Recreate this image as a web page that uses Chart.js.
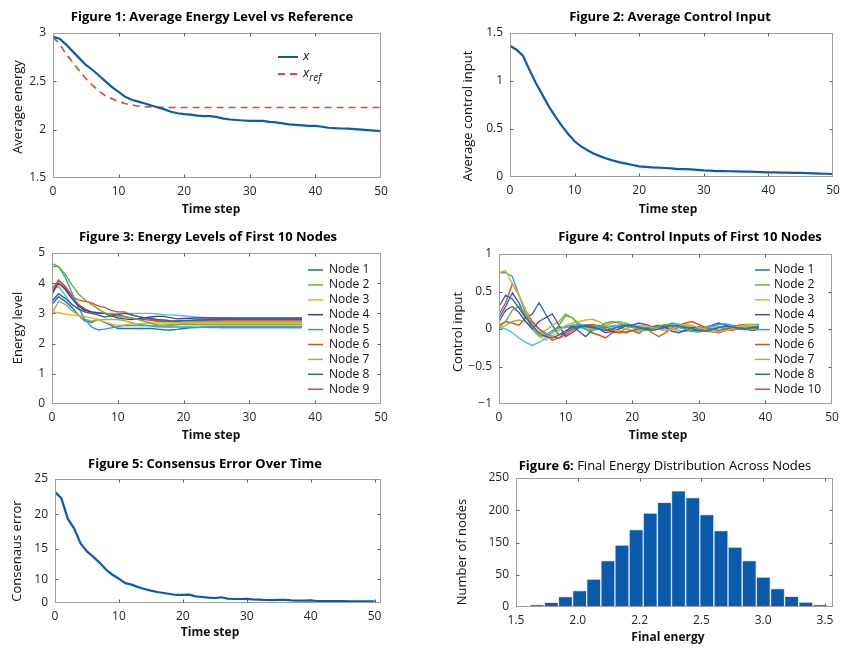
<!DOCTYPE html>
<html><head><meta charset="utf-8">
<script src="https://cdn.jsdelivr.net/npm/chart.js@4"></script>
<style>
html,body{margin:0;padding:0;background:#fff;width:855px;height:653px;overflow:hidden;position:relative;}
canvas{position:absolute;}
</style></head><body>
<canvas id="f1"></canvas><canvas id="f2"></canvas><canvas id="f3"></canvas>
<canvas id="f4"></canvas><canvas id="f5"></canvas><canvas id="f6"></canvas>
<script>
// ---------------- DATA ----------------
const TIME_STEPS = [0,1,2,3,4,5,6,7,8,9,10,11,12,13,14,15,16,17,18,19,20,21,22,23,24,25,26,27,28,29,30,31,32,33,34,35,36,37,38,39,40,41,42,43,44,45,46,47,48,49,50];

const AVG_ENERGY = [2.96,2.94,2.88,2.81,2.74,2.67,2.62,2.56,2.50,2.44,2.39,2.34,2.31,2.29,2.27,2.25,2.23,2.21,2.185,2.17,2.16,2.155,2.145,2.14,2.14,2.13,2.115,2.105,2.10,2.095,2.09,2.09,2.09,2.08,2.075,2.065,2.055,2.05,2.045,2.04,2.04,2.03,2.02,2.015,2.012,2.01,2.005,2.0,1.995,1.99,1.985];
const REF_ENERGY = [2.955,2.89,2.78,2.70,2.61,2.53,2.46,2.40,2.35,2.32,2.29,2.27,2.255,2.245,2.238,2.234,2.232,2.231,2.23,2.23,2.23,2.23,2.23,2.23,2.23,2.23,2.23,2.23,2.23,2.23,2.23,2.23,2.23,2.23,2.23,2.23,2.23,2.23,2.23,2.23,2.23,2.23,2.23,2.23,2.23,2.23,2.23,2.23,2.23,2.23,2.23];

const AVG_CONTROL = [1.368,1.326,1.264,1.118,0.979,0.858,0.736,0.632,0.535,0.448,0.372,0.319,0.278,0.243,0.215,0.191,0.170,0.153,0.139,0.125,0.111,0.105,0.100,0.097,0.094,0.089,0.083,0.081,0.080,0.075,0.069,0.066,0.062,0.061,0.060,0.059,0.057,0.055,0.053,0.051,0.049,0.048,0.046,0.045,0.043,0.042,0.040,0.038,0.036,0.034,0.031];

const E_NODE1 = [3.40,3.65,3.50,3.30,3.15,3.05,3.00,2.95,2.88,2.92,2.96,3.00,2.96,2.90,2.86,2.83,2.80,2.78,2.76,2.75,2.76,2.77,2.78,2.78,2.79,2.79,2.80,2.80,2.80,2.80,2.80,2.80,2.80,2.80,2.80,2.80,2.80,2.80,2.80];
const E_NODE2 = [4.55,4.55,4.30,3.95,3.65,3.45,3.30,3.15,3.02,2.95,2.90,2.88,2.85,2.80,2.74,2.68,2.62,2.58,2.60,2.62,2.64,2.63,2.62,2.62,2.62,2.62,2.62,2.62,2.62,2.62,2.62,2.62,2.62,2.62,2.62,2.62,2.62,2.62,2.62];
const E_NODE3 = [3.05,3.02,2.98,2.95,2.92,2.90,2.85,2.80,2.72,2.65,2.60,2.62,2.65,2.66,2.67,2.68,2.68,2.68,2.69,2.69,2.70,2.70,2.70,2.70,2.70,2.70,2.70,2.70,2.70,2.70,2.70,2.70,2.70,2.70,2.70,2.70,2.70,2.70,2.70];
const E_NODE4 = [3.70,4.00,3.80,3.50,3.25,3.10,3.05,3.02,3.00,2.92,2.85,2.82,2.80,2.82,2.85,2.88,2.90,2.90,2.86,2.82,2.83,2.84,2.85,2.85,2.85,2.85,2.85,2.85,2.85,2.85,2.85,2.85,2.85,2.85,2.85,2.85,2.85,2.85,2.85];
const E_NODE5 = [4.65,4.55,4.20,3.70,3.20,2.80,2.55,2.45,2.48,2.52,2.56,2.60,2.60,2.60,2.60,2.58,2.56,2.55,2.55,2.55,2.55,2.55,2.54,2.54,2.53,2.53,2.52,2.52,2.52,2.52,2.52,2.52,2.52,2.52,2.52,2.52,2.52,2.52,2.52];
const E_NODE6 = [3.80,4.10,3.85,3.55,3.45,3.40,3.35,3.25,3.20,3.10,3.05,3.05,2.95,2.90,2.85,2.80,2.75,2.74,2.74,2.75,2.76,2.77,2.78,2.78,2.78,2.78,2.78,2.78,2.78,2.78,2.78,2.78,2.78,2.78,2.78,2.78,2.78,2.78,2.78];
const E_NODE7 = [3.00,3.40,3.30,3.10,2.95,2.80,2.75,2.78,2.80,2.80,2.80,2.76,2.70,2.65,2.62,2.60,2.60,2.62,2.64,2.65,2.65,2.65,2.65,2.65,2.65,2.65,2.65,2.65,2.65,2.65,2.65,2.65,2.65,2.65,2.65,2.65,2.65,2.65,2.65];
const E_NODE8 = [3.30,3.55,3.40,3.20,2.95,2.75,2.70,2.80,2.70,2.60,2.50,2.50,2.50,2.50,2.50,2.50,2.48,2.46,2.45,2.47,2.50,2.52,2.53,2.54,2.55,2.55,2.55,2.55,2.55,2.55,2.55,2.55,2.55,2.55,2.55,2.55,2.55,2.55,2.55];
const E_NODE9 = [3.60,4.10,3.90,3.60,3.30,3.15,3.05,3.00,3.00,2.97,2.95,2.90,2.85,2.82,2.80,2.77,2.75,2.73,2.72,2.72,2.72,2.72,2.72,2.72,2.72,2.72,2.72,2.72,2.72,2.72,2.72,2.72,2.72,2.72,2.72,2.72,2.72,2.72,2.72];
const E_NODE10 = [3.75,3.90,3.60,3.30,3.15,3.05,3.00,3.00,3.00,3.00,3.00,3.00,3.00,3.00,3.00,3.00,2.98,2.96,2.95,2.94,2.92,2.90,2.88,2.87,2.86,2.85,2.84,2.83,2.82,2.82,2.82,2.82,2.82,2.82,2.82,2.82,2.82,2.82,2.82];

const U_NODE1 = [0.30,0.45,0.40,0.28,0.15,0.05,-0.05,-0.10,-0.12,-0.08,-0.02,0.02,0.04,0.03,0.02,0.00,-0.02,0.00,0.03,0.05,0.04,0.02,0.00,-0.02,0.00,0.03,0.05,0.04,0.02,0.00,-0.02,-0.03,-0.01,0.02,0.04,0.03,0.01,0.00,0.02,0.03];
const U_NODE2 = [0.02,0.10,0.25,0.30,0.20,0.05,-0.08,-0.10,-0.05,0.05,0.18,0.15,0.05,0.00,-0.02,0.03,0.08,0.10,0.08,0.05,0.02,0.00,-0.02,0.00,0.04,0.06,0.05,0.02,0.00,-0.03,-0.04,-0.02,0.00,0.02,0.03,0.02,0.00,-0.01,0.01,0.02];
const U_NODE3 = [0.75,0.78,0.60,0.45,0.25,0.05,-0.10,-0.15,-0.10,-0.02,0.05,0.08,0.10,0.12,0.13,0.10,0.05,0.00,-0.03,0.00,0.03,0.05,0.04,0.02,0.00,-0.02,0.00,0.04,0.06,0.05,0.02,0.00,-0.03,-0.04,-0.02,0.00,0.03,0.05,0.06,0.04];
const U_NODE4 = [0.10,0.25,0.30,0.22,0.10,0.00,0.10,0.15,0.20,0.05,-0.10,-0.05,0.02,0.05,0.03,0.00,-0.05,-0.03,0.00,0.04,0.05,0.02,0.00,0.03,0.05,0.02,-0.03,-0.05,-0.02,0.02,0.03,0.00,-0.03,-0.05,-0.02,0.01,0.02,0.00,-0.02,0.00];
const U_NODE5 = [0.75,0.75,0.70,0.45,0.20,0.00,-0.10,-0.08,-0.02,0.02,0.03,0.05,0.06,0.05,0.04,0.03,0.03,0.04,0.05,0.06,0.05,0.03,0.01,0.00,0.02,0.05,0.08,0.06,0.03,0.01,0.00,0.02,0.04,0.06,0.07,0.05,0.04,0.05,0.06,0.06];
const U_NODE6 = [0.20,0.35,0.60,0.45,0.25,0.10,0.00,-0.08,-0.15,-0.12,-0.05,0.00,0.03,0.05,0.06,0.04,0.00,-0.03,-0.05,-0.04,-0.02,0.00,0.02,-0.05,-0.10,-0.05,0.02,0.05,0.08,0.10,0.06,0.02,0.00,-0.02,0.00,0.03,0.05,0.06,0.06,0.05];
const U_NODE7 = [0.00,0.05,0.10,0.12,0.10,0.02,-0.05,-0.02,0.05,0.10,0.20,0.15,0.08,0.03,0.00,0.02,0.05,0.08,0.10,0.08,0.05,0.03,0.02,0.00,0.02,0.03,0.04,0.06,0.05,0.02,-0.01,-0.03,-0.04,-0.03,-0.01,0.01,0.02,0.03,0.03,0.02];
const U_NODE8 = [0.15,0.30,0.48,0.35,0.15,0.20,0.35,0.20,0.05,-0.08,-0.05,0.05,-0.03,-0.10,-0.02,0.05,0.03,0.00,-0.05,0.00,0.05,0.08,0.06,0.03,0.00,0.02,0.04,0.03,0.00,-0.03,-0.02,0.02,0.05,0.08,0.05,0.02,0.00,0.01,0.02,0.03];
const U_NODE9 = [0.02,0.00,-0.05,-0.12,-0.18,-0.22,-0.18,-0.12,-0.05,0.00,0.02,0.03,0.02,0.00,-0.02,0.00,0.02,0.03,0.02,0.00,-0.02,-0.03,-0.01,0.01,0.02,0.02,0.00,-0.02,-0.03,-0.02,0.00,0.02,0.03,0.02,0.01,0.00,0.01,0.02,0.03,0.04];
const U_NODE10 = [0.05,0.10,0.08,0.05,0.15,0.10,0.00,-0.05,-0.10,-0.12,-0.08,-0.02,0.03,0.00,-0.05,-0.08,-0.12,-0.05,-0.03,-0.05,-0.02,-0.06,0.00,0.02,0.00,-0.02,0.00,0.02,0.05,0.02,0.00,-0.02,0.00,0.03,0.00,-0.02,0.01,0.03,0.02,0.00];

const NODE_NAMES = ['Node 1','Node 2','Node 3','Node 4','Node 5','Node 6','Node 7','Node 8','Node 9','Node 10'];

const CONSENSUS_ERROR = [22.4,21.1,17.0,15.0,12.0,10.4,9.3,8.1,6.7,5.7,4.9,4.0,3.7,3.2,2.83,2.49,2.22,2.02,1.82,1.62,1.62,1.68,1.35,1.21,1.08,1.01,1.15,0.88,0.81,0.81,0.84,0.74,0.67,0.61,0.57,0.61,0.64,0.54,0.47,0.47,0.54,0.40,0.37,0.37,0.36,0.36,0.35,0.35,0.34,0.34,0.34];

const HIST_CENTERS = [1.546,1.637,1.729,1.820,1.912,2.003,2.095,2.186,2.278,2.369,2.461,2.552,2.644,2.735,2.827,2.918,3.010,3.101,3.193,3.284,3.376,3.467];
const HIST_COUNTS = [1,4.5,9,20,32,54,90,120,150,182,203,225,212,179,148,116,90,58,35.5,20.7,9.7,4.5];

// tick values and labels
const TIME_TICKS = [0,10,20,30,40,50];
const TIME_TICK_LABELS = ['0','10','20','30','40','50'];
const F1_Y_TICKS = [1.5,2,2.5,3]; const F1_Y_LABELS = ['1.5','2','2.5','3'];
const F2_Y_TICKS = [0,0.5,1,1.5]; const F2_Y_LABELS = ['0','0.5','1','1.5'];
const F3_Y_TICKS = [0,1,2,3,4,5]; const F3_Y_LABELS = ['0','1','2','3','4','5'];
const F4_Y_TICKS = [-1,-0.5,0,0.5,1]; const F4_Y_LABELS = ['\u22121','\u22120.5','0','0.5','1'];
const F5_Y_TICKS = [0,4.8,10.9,17.9,25]; const F5_Y_LABELS = ['0','10','15','20','25'];
const F6_Y_TICKS = [0,62.5,125,187.5,250]; const F6_Y_LABELS = ['0','50','150','200','250'];
const F6_X_TICKS = [1.5,1.9,2.3,2.7,3.1,3.5]; const F6_X_LABELS = ['1.5','2.0','2.2','2.5','3.0','3.5'];

// ---------------- STYLE / LAYOUT ----------------
const FONT = "'Open Sans','Noto Sans',sans-serif";
const PADL = 70, PADT = 40, PADR = 22, PADB = 50;
const BLUE = '#0b5cb0', RED = '#e8452c';
const COLORS3 = ['#2463b8','#77ac30','#edb120','#4a3a8c','#1ea6e3','#d95319','#8cbf3f','#2a66c4','#e8432a','#4dbeee'];
const COLORS4 = ['#2f6cc0','#77ac30','#edb120','#5a4a9a','#22aae6','#d95319','#8cc04a','#2a62c8','#4dbeee','#e04a2c'];

function series(xs, ys){ return ys.map((v,i)=>({x:xs[i], y:v})); }

function place(id, box){
  const cv = document.getElementById(id);
  const w = box.R-box.L+PADL+PADR, h = box.B-box.T+PADT+PADB;
  cv.width = w; cv.height = h;
  cv.style.left = (box.L-PADL)+'px'; cv.style.top = (box.T-PADT)+'px';
  cv.style.width = w+'px'; cv.style.height = h+'px';
  return cv;
}
function xScale(min,max,vals,labels){
  return {type:'linear',min,max,offset:false,
    afterBuildTicks:s=>{s.ticks=vals.map(v=>({value:v}));},
    afterFit:s=>{s.height=PADB;},
    grid:{display:false,drawTicks:false,offset:false},border:{display:false},
    ticks:{padding:6,autoSkip:false,maxRotation:0,color:'#262626',font:{family:FONT,size:12},callback:(v,i)=>labels[i]}};
}
function yScale(min,max,vals,labels){
  return {type:'linear',min,max,
    afterBuildTicks:s=>{s.ticks=vals.map(v=>({value:v}));},
    afterFit:s=>{s.width=PADL;},
    grid:{display:false,drawTicks:false},border:{display:false},
    ticks:{padding:7,autoSkip:false,color:'#262626',font:{family:FONT,size:12},callback:(v,i)=>labels[i]}};
}

function drawSegs(ctx, segs, cx, cy){
  let total=0;
  segs.forEach(s=>{ctx.font=s.f; total+=ctx.measureText(s.t).width;});
  let x=cx-total/2;
  ctx.textBaseline='middle'; ctx.textAlign='left';
  segs.forEach(s=>{ctx.font=s.f; ctx.fillText(s.t,x,cy+(s.dy||0)); x+=ctx.measureText(s.t).width;});
}

const deco = {
  id:'deco',
  afterDraw(chart, args, o){
    const ctx=chart.ctx, a=chart.chartArea, ox=o.ox, oy=o.oy;
    ctx.save();
    const l=Math.round(a.left)+0.5, r=Math.round(a.right)-0.5, t=Math.round(a.top)+0.5, b=Math.round(a.bottom)-0.5;
    ctx.strokeStyle='#a0a0a0'; ctx.lineWidth=1;
    ctx.strokeRect(l,t,r-l,b-t);
    const xs=chart.scales.x, ys=chart.scales.y, TL=3;
    ctx.strokeStyle='#606060';
    ctx.beginPath();
    xs.ticks.forEach(tk=>{const p=Math.round(xs.getPixelForValue(tk.value))+0.5; if(p<=l+1||p>=r-1) return;
      ctx.moveTo(p,b); ctx.lineTo(p,b-TL); ctx.moveTo(p,t); ctx.lineTo(p,t+TL);});
    ys.ticks.forEach(tk=>{const p=Math.round(ys.getPixelForValue(tk.value))+0.5; if(p<=t+1||p>=b-1) return;
      ctx.moveTo(l,p); ctx.lineTo(l+TL,p); ctx.moveTo(r,p); ctx.lineTo(r-TL,p);});
    ctx.stroke();
    ctx.fillStyle='#000';
    // title
    drawSegs(ctx, o.title, o.titleX-ox, o.titleY-oy);
    // x title
    ctx.fillStyle='#111';
    drawSegs(ctx, [{t:o.xTitle,f:'bold 12px '+FONT}], o.xTitleX-ox, o.xTitleY-oy);
    // y title
    ctx.save();
    ctx.translate(o.yTitleX-ox, o.yTitleY-oy); ctx.rotate(-Math.PI/2);
    drawSegs(ctx, [{t:o.yTitle,f:'13px '+FONT}], 0, 0);
    ctx.restore();
    // legend
    if(o.legend){
      const L=o.legend;
      L.items.forEach((it,k)=>{
        const ds=chart.data.datasets[it.ds];
        const y=L.y0+k*L.dy-oy;
        ctx.save();
        ctx.strokeStyle=ds.borderColor; ctx.lineWidth=L.lw||1.5;
        if(ds.borderDash) ctx.setLineDash(ds.borderDash);
        ctx.beginPath(); ctx.moveTo(L.x1-ox,y); ctx.lineTo(L.x2-ox,y); ctx.stroke();
        ctx.restore();
        ctx.fillStyle='#111'; ctx.textBaseline='middle'; ctx.textAlign='left';
        let x=L.tx-ox;
        it.segs.forEach(s=>{ctx.font=s.f; ctx.fillText(s.t,x,y+(s.dy||0)); x+=ctx.measureText(s.t).width;});
      });
    }
    ctx.restore();
  }
};
Chart.register(deco);

const TFONT='bold 13px '+FONT;
function lineOpts(box, xs, ys, deco){
  deco.ox=box.L-PADL; deco.oy=box.T-PADT;
  return {responsive:false,animation:false,devicePixelRatio:1,
    layout:{padding:{left:0,top:PADT,right:PADR,bottom:0}},
    plugins:{legend:{display:false},tooltip:{enabled:false},deco},
    elements:{point:{radius:0},line:{tension:0}},
    scales:{x:xs,y:ys}};
}

// Figure 1
const B1={L:53,R:381,T:33,B:178};
new Chart(place('f1',B1),{type:'line',
  data:{datasets:[
    {data:series(TIME_STEPS,AVG_ENERGY),borderColor:BLUE,borderWidth:2.2},
    {data:series(TIME_STEPS,REF_ENERGY),borderColor:RED,borderWidth:1.6,borderDash:[7,5]}]},
  options:lineOpts(B1,xScale(0,50,TIME_TICKS,TIME_TICK_LABELS),yScale(1.5,3,F1_Y_TICKS,F1_Y_LABELS),
    {title:[{t:'Figure 1: Average Energy Level vs Reference',f:TFONT}],titleX:212,titleY:17,
     xTitle:'Time step',xTitleX:211,xTitleY:210,yTitle:'Average energy',yTitleX:18,yTitleY:107,
     legend:{x1:278,x2:298,tx:303,y0:57,dy:17,lw:2,items:[
       {ds:0,segs:[{t:'x',f:'italic 13px '+FONT,dy:-1}]},
       {ds:1,segs:[{t:'x',f:'italic 13px '+FONT,dy:-1},{t:'ref',f:'italic 10px '+FONT,dy:4}]}]}})});

// Figure 2
const B2={L:510,R:833,T:33,B:177};
new Chart(place('f2',B2),{type:'line',
  data:{datasets:[{data:series(TIME_STEPS,AVG_CONTROL),borderColor:BLUE,borderWidth:2.2}]},
  options:lineOpts(B2,xScale(0,50,TIME_TICKS,TIME_TICK_LABELS),yScale(0,1.5,F2_Y_TICKS,F2_Y_LABELS),
    {title:[{t:'Figure 2: Average Control Input',f:TFONT}],titleX:670,titleY:17,
     xTitle:'Time step',xTitleX:668,xTitleY:210,yTitle:'Average control input',yTitleX:468,yTitleY:116})});

// Figure 3
const B3={L:52,R:381,T:253,B:404};
const E_ALL=[E_NODE1,E_NODE2,E_NODE3,E_NODE4,E_NODE5,E_NODE6,E_NODE7,E_NODE8,E_NODE9,E_NODE10];
new Chart(place('f3',B3),{type:'line',
  data:{datasets:E_ALL.map((arr,i)=>({data:series(TIME_STEPS,arr),borderColor:COLORS3[i],borderWidth:1.4}))},
  options:lineOpts(B3,xScale(0,50,TIME_TICKS,TIME_TICK_LABELS),yScale(0,5,F3_Y_TICKS,F3_Y_LABELS),
    {title:[{t:'Figure 3: Energy Levels of First 10 Nodes',f:TFONT}],titleX:208,titleY:237,
     xTitle:'Time step',xTitleX:211,xTitleY:436,yTitle:'Energy level',yTitleX:18,yTitleY:328,
     legend:{x1:308,x2:323,tx:329,y0:270,dy:14.9,lw:1.5,items:[0,1,2,3,4,5,6,7,8].map(i=>({ds:i,segs:[{t:NODE_NAMES[i],f:'12px '+FONT}]}))}})});

// Figure 4
const B4={L:499,R:832,T:254,B:404};
const U_ALL=[U_NODE1,U_NODE2,U_NODE3,U_NODE4,U_NODE5,U_NODE6,U_NODE7,U_NODE8,U_NODE9,U_NODE10];
new Chart(place('f4',B4),{type:'line',
  data:{datasets:U_ALL.map((arr,i)=>({data:series(TIME_STEPS,arr),borderColor:COLORS4[i],borderWidth:1.4}))},
  options:lineOpts(B4,xScale(0,50,TIME_TICKS,TIME_TICK_LABELS),yScale(-1,1,F4_Y_TICKS,F4_Y_LABELS),
    {title:[{t:'Figure 4: Control Inputs of First 10 Nodes',f:TFONT}],titleX:690,titleY:237,
     xTitle:'Time step',xTitleX:658,xTitleY:436,yTitle:'Control input',yTitleX:458,yTitleY:332,
     legend:{x1:755,x2:770,tx:774,y0:270,dy:14.9,lw:1.5,items:[0,1,2,3,4,5,6,7,9].map(i=>({ds:i,segs:[{t:NODE_NAMES[i],f:'12px '+FONT}]}))}})});

// Figure 5
const B5={L:55,R:381,T:479,B:603};
new Chart(place('f5',B5),{type:'line',
  data:{datasets:[{data:series(TIME_STEPS,CONSENSUS_ERROR),borderColor:BLUE,borderWidth:2.2}]},
  options:lineOpts(B5,xScale(0,51,TIME_TICKS,TIME_TICK_LABELS),yScale(0,25,F5_Y_TICKS,F5_Y_LABELS),
    {title:[{t:'Figure 5: Consensus Error Over Time',f:TFONT}],titleX:205,titleY:464,
     xTitle:'Time step',xTitleX:210,xTitleY:633,yTitle:'Consenaus error',yTitleX:17,yTitleY:551})});

// Figure 6
const B6={L:516,R:833,T:478,B:607};
new Chart(place('f6',B6),{type:'bar',
  data:{datasets:[{data:series(HIST_CENTERS,HIST_COUNTS),backgroundColor:'#0b5aab',borderColor:'#d8e6f4',borderWidth:1,barPercentage:1,categoryPercentage:1}]},
  options:lineOpts(B6,xScale(1.5,3.552,F6_X_TICKS,F6_X_LABELS),yScale(0,250,F6_Y_TICKS,F6_Y_LABELS),
    {title:[{t:'Figure 6:',f:TFONT},{t:' Final Energy Distribution Across Nodes',f:'13px '+FONT}],titleX:665,titleY:466,
     xTitle:'Final energy',xTitleX:668,xTitleY:638,yTitle:'Number of nodes',yTitleX:462,yTitleY:552})});
</script>
</body></html>
